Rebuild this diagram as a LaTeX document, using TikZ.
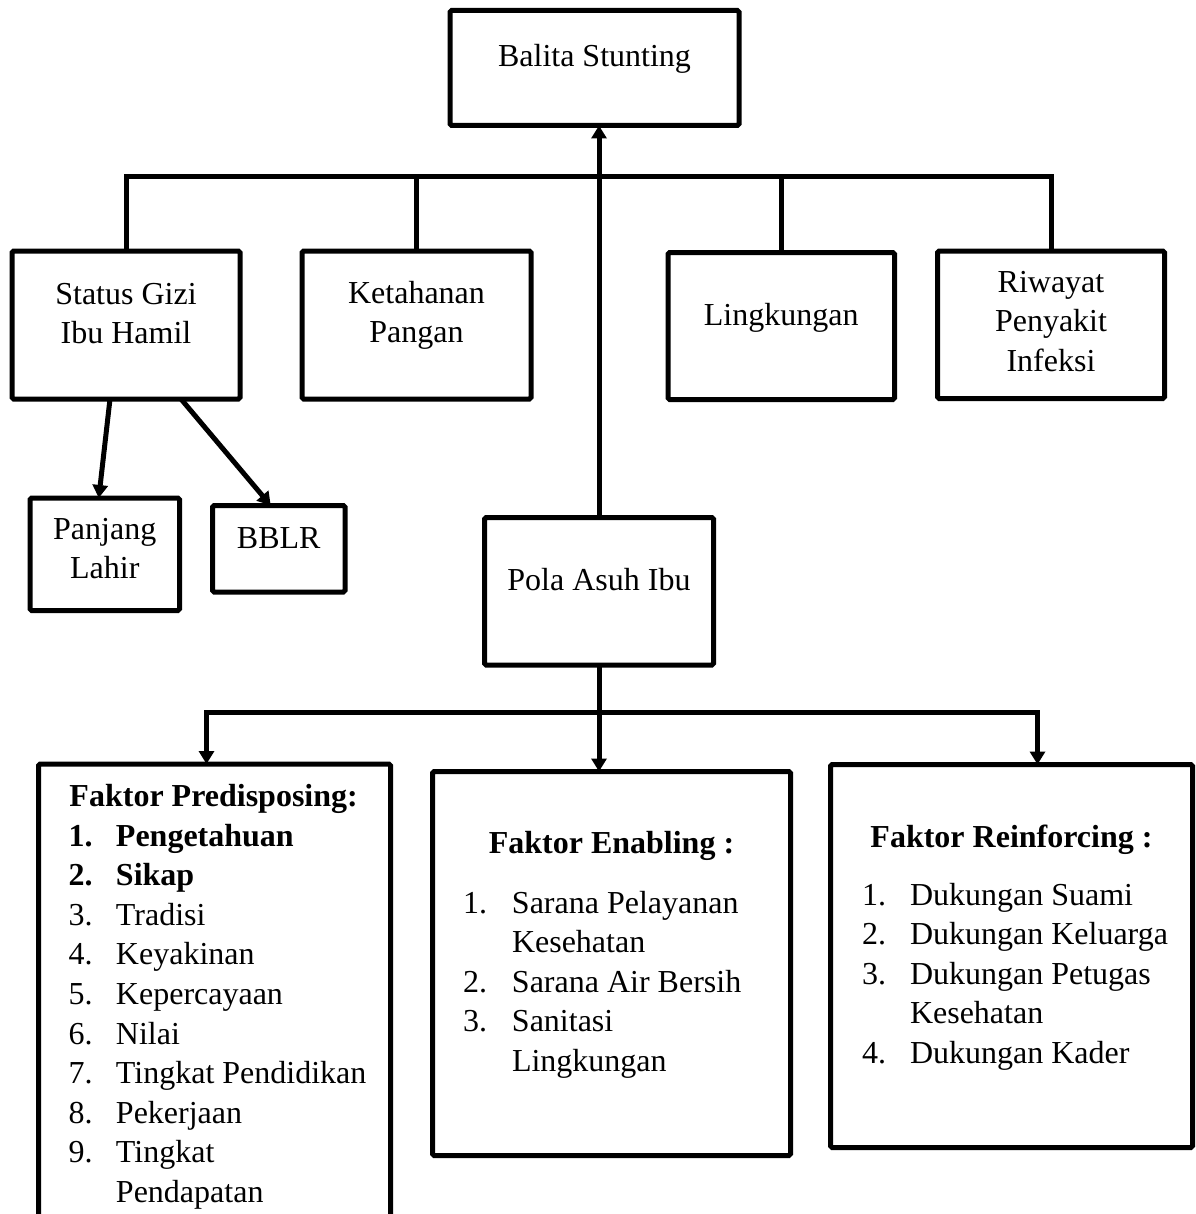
\documentclass[tikz,border=0pt]{standalone}
\usepackage{fontspec}
\setmainfont{Liberation Serif}
\usetikzlibrary{arrows.meta}
\newcommand{\diagfont}{\fontsize{16pt}{19.8pt}\selectfont}
% width, height, first-baseline offset, content
\newcommand{\boxcontent}[4]{\parbox[c][#2][t]{#1}{\diagfont\centering\rule{0pt}{#3}#4}}
\newcommand{\numitem}[3]{\hspace*{#1}\makebox[#2][l]{#3}}
\tikzset{
  box/.style={draw, line width=2.5pt, inner sep=0pt, outer sep=0pt, anchor=north west, rounded corners=0.8pt},
  conn/.style={line width=2.5pt},
  arr/.style={conn, -{Triangle[width=7.5pt,length=6.5pt]}},
}
\begin{document}
\begin{tikzpicture}[x=0.5pt,y=-0.5pt]
\useasboundingbox (0,0) rectangle (1195,1214);
\clip (0,0) rectangle (1195,1214);
\fill[white] (0,0) rectangle (1195,1214);

% top boxes
\node[box] (balita) at (450,10.5) {\boxcontent{144.5pt}{57.5pt}{28.25pt}{Balita Stunting}};
\node[box] (status) at (12,251) {\boxcontent{114pt}{74pt}{26.5pt}{Status Gizi\\Ibu Hamil}};
\node[box] (ketahanan) at (302,251) {\boxcontent{114.5pt}{74pt}{26pt}{Ketahanan\\Pangan}};
\node[box] (lingkungan) at (668,252.5) {\boxcontent{113.25pt}{73.5pt}{36.25pt}{Lingkungan}};
\node[box] (riwayat) at (937.5,251) {\boxcontent{113.5pt}{73.75pt}{20.5pt}{Riwayat\\Penyakit\\Infeksi}};
\node[box] (panjang) at (30,498) {\boxcontent{74.75pt}{56.25pt}{20.5pt}{Panjang\\Lahir}};
\node[box] (bblr) at (212.5,505.5) {\boxcontent{66.25pt}{43.25pt}{21.25pt}{BBLR}};
\node[box] (pola) at (484.5,517.5) {\boxcontent{114.5pt}{73.75pt}{36.25pt}{Pola Asuh Ibu}};

% factor boxes
\node[box] (pred) at (38.5,764) {\parbox[c][238pt][t]{176pt}{\diagfont\raggedright
  \rule{0pt}{21.25pt}\hspace*{15.5pt}\textbf{Faktor Predisposing:}\\
  \numitem{15pt}{23.75pt}{\textbf{1.}}\textbf{Pengetahuan}\\
  \numitem{15pt}{23.75pt}{\textbf{2.}}\textbf{Sikap}\\
  \numitem{15pt}{23.75pt}{3.}Tradisi\\
  \numitem{15pt}{23.75pt}{4.}Keyakinan\\
  \numitem{15pt}{23.75pt}{5.}Kepercayaan\\
  \numitem{15pt}{23.75pt}{6.}Nilai\\
  \numitem{15pt}{23.75pt}{7.}Tingkat Pendidikan\\
  \numitem{15pt}{23.75pt}{8.}Pekerjaan\\
  \numitem{15pt}{23.75pt}{9.}Tingkat\\
  \hspace*{38.75pt}Pendapatan}};

\node[box] (enab) at (432.5,771.5) {\parbox[c][192pt][t]{179pt}{\diagfont\raggedright
  \rule{0pt}{40.75pt}\makebox[\linewidth][c]{\textbf{Faktor Enabling :}}\\[10.2pt]
  \numitem{15.25pt}{24.5pt}{1.}Sarana Pelayanan\\
  \hspace*{39.75pt}Kesehatan\\
  \numitem{15.25pt}{24.5pt}{2.}Sarana Air Bersih\\
  \numitem{15.25pt}{24.5pt}{3.}Sanitasi\\
  \hspace*{39.75pt}Lingkungan}};

\node[box] (reinf) at (830.5,764.5) {\parbox[c][191.5pt][t]{181pt}{\diagfont\raggedright
  \rule{0pt}{41.25pt}\makebox[\linewidth][c]{\textbf{Faktor Reinforcing :}}\\[9.2pt]
  \numitem{15.75pt}{24pt}{1.}Dukungan Suami\\
  \numitem{15.75pt}{24pt}{2.}Dukungan Keluarga\\
  \numitem{15.75pt}{24pt}{3.}Dukungan Petugas\\
  \hspace*{39.75pt}Kesehatan\\
  \numitem{15.75pt}{24pt}{4.}Dukungan Kader}};

% connectors
\coordinate (topbus) at (0,177);
\coordinate (lowbus) at (0,712);
\draw[conn] (status.north) -- (status.north |- topbus) -- (riwayat.north |- topbus) -- (riwayat.north);
\draw[conn] (ketahanan.north) -- (ketahanan.north |- topbus);
\draw[conn] (lingkungan.north) -- (lingkungan.north |- topbus);
\draw[arr] (pola.north) -- (pola.north |- balita.south);
\draw[arr] ([xshift=-8pt]status.south) -- ([xshift=-3pt]panjang.north);
\draw[arr] ([xshift=27.5pt]status.south) -- ([xshift=-4pt]bblr.north);
\draw[arr] (pola.south) -- (pola.south |- enab.north);
\draw[arr] (pola.south |- lowbus) -| ([xshift=-4pt]pred.north);
\draw[arr] (pola.south |- lowbus) -| ([xshift=13pt]reinf.north);
\end{tikzpicture}
\end{document}
